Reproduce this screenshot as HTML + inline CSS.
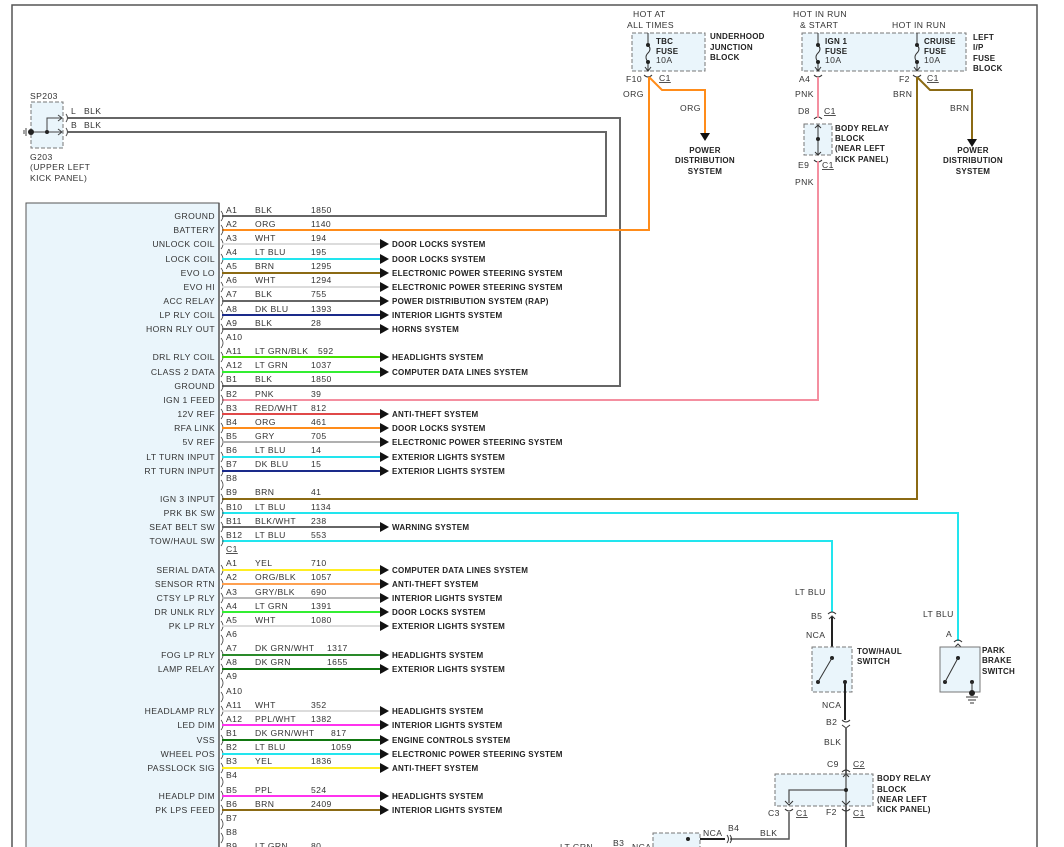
<!DOCTYPE html>
<html><head><meta charset="utf-8"><style>
html,body{margin:0;padding:0;background:#fff;}
svg{display:block;font-family:"Liberation Sans",sans-serif;font-size:8.6px;letter-spacing:0.4px;fill:#333;}
.b{font-weight:bold;fill:#222;font-size:8px;letter-spacing:0.25px;}
.r{text-anchor:end;}
</style></head><body>
<svg width="1064" height="847" viewBox="0 0 1064 847" xmlns="http://www.w3.org/2000/svg">
<rect x="0" y="0" width="1064" height="847" fill="#fff"/>
<path d="M12,847 V5 H1037 V847" fill="none" stroke="#555" stroke-width="1.5"/>
<rect x="26" y="203" width="193" height="660" fill="#eaf5fb" stroke="#555" stroke-width="1"/>
<line x1="219" y1="203" x2="219" y2="847" stroke="#555" stroke-width="1.5"/>

<text x="30" y="99">SP203</text>
<rect x="31" y="102" width="32" height="46" fill="#eaf5fb" stroke="#777" stroke-dasharray="4,2"/>
<path d="M31,132 H62 M47,132 V118 H62" fill="none" stroke="#444"/>
<path d="M58,115 l4,3 l-4,3 M58,129 l4,3 l-4,3" fill="none" stroke="#444"/>
<circle cx="31" cy="132" r="3" fill="#222"/><circle cx="47" cy="132" r="2" fill="#222"/>
<path d="M26,128 v8 M24,130 v4" stroke="#444"/>
<path d="M66,114 q3,4 0,8 M66,128 q3,4 0,8" fill="none" stroke="#444"/>
<text x="71" y="114">L</text><text x="84" y="114">BLK</text>
<text x="71" y="128">B</text><text x="84" y="128">BLK</text>
<text x="30" y="160">G203</text><text x="30" y="170">(UPPER LEFT</text><text x="30" y="181">KICK PANEL)</text>
<path d="M68,118 H620 V386 H222" fill="none" stroke="#666" stroke-width="2"/>
<path d="M68,132 H606 V216 H222" fill="none" stroke="#666" stroke-width="2"/>

<text x="633" y="17">HOT AT</text><text x="627" y="28">ALL TIMES</text>
<rect x="632" y="33" width="73" height="38" fill="#eaf5fb" stroke="#777" stroke-dasharray="4,2"/>
<path d="M648,33 V45 M648,62 V71" stroke="#333"/><path d="M648,45 q4,4 0,8 q-4,4 0,9" fill="none" stroke="#333"/>
<circle cx="648" cy="45" r="2" fill="#222"/><circle cx="648" cy="62" r="2" fill="#222"/>
<path d="M645,67 l3,4 l3,-4 M644,75 q4,4 8,0" fill="none" stroke="#333"/>
<text class="b" x="656" y="44">TBC</text><text class="b" x="656" y="54">FUSE</text><text x="656" y="63">10A</text>
<text class="b" x="710" y="39">UNDERHOOD</text><text class="b" x="710" y="50">JUNCTION</text><text class="b" x="710" y="60">BLOCK</text>
<text x="626" y="82">F10</text><text x="659" y="81" text-decoration="underline">C1</text>
<text x="623" y="97">ORG</text><text x="680" y="111">ORG</text>
<path d="M649,77 V230 H222" fill="none" stroke="#ff8c1a" stroke-width="2"/>
<path d="M649,77 L662,90 H705 V134" fill="none" stroke="#ff8c1a" stroke-width="2"/>
<polygon points="700,133 710,133 705,141" fill="#111"/>
<text class="b" x="705" y="153" text-anchor="middle">POWER</text><text class="b" x="705" y="163" text-anchor="middle">DISTRIBUTION</text><text class="b" x="705" y="174" text-anchor="middle">SYSTEM</text>

<text x="793" y="17">HOT IN RUN</text><text x="800" y="28">&amp; START</text><text x="892" y="28">HOT IN RUN</text>
<rect x="802" y="33" width="164" height="38" fill="#eaf5fb" stroke="#777" stroke-dasharray="4,2"/>
<path d="M818,33 V45 M818,62 V71 M917,33 V45 M917,62 V71" stroke="#333"/>
<path d="M818,45 q4,4 0,8 q-4,4 0,9 M917,45 q4,4 0,8 q-4,4 0,9" fill="none" stroke="#333"/>
<circle cx="818" cy="45" r="2" fill="#222"/><circle cx="818" cy="62" r="2" fill="#222"/>
<circle cx="917" cy="45" r="2" fill="#222"/><circle cx="917" cy="62" r="2" fill="#222"/>
<path d="M815,67 l3,4 l3,-4 M814,75 q4,4 8,0 M914,67 l3,4 l3,-4 M913,75 q4,4 8,0" fill="none" stroke="#333"/>
<text class="b" x="825" y="44">IGN 1</text><text class="b" x="825" y="54">FUSE</text><text x="825" y="63">10A</text>
<text class="b" x="924" y="44">CRUISE</text><text class="b" x="924" y="54">FUSE</text><text x="924" y="63">10A</text>
<text class="b" x="973" y="40">LEFT</text><text class="b" x="973" y="50">I/P</text><text class="b" x="973" y="61">FUSE</text><text class="b" x="973" y="71">BLOCK</text>
<text x="799" y="82">A4</text><text x="899" y="82">F2</text><text x="927" y="81" text-decoration="underline">C1</text>
<text x="795" y="97">PNK</text><text x="893" y="97">BRN</text><text x="950" y="111">BRN</text>
<text x="798" y="114">D8</text><text x="824" y="114" text-decoration="underline">C1</text>
<rect x="804" y="124" width="28" height="31" fill="#eaf5fb" stroke="#777" stroke-dasharray="4,2"/>
<path d="M814,119 q4,-4 8,0 M814,160 q4,4 8,0 M815,128 l3,-3 l3,3 M815,152 l3,3 l3,-3" fill="none" stroke="#333"/>
<path d="M818,125 V155" stroke="#333"/><circle cx="818" cy="139" r="2" fill="#222"/>
<text class="b" x="835" y="131">BODY RELAY</text><text class="b" x="835" y="141">BLOCK</text><text class="b" x="835" y="151">(NEAR LEFT</text><text class="b" x="835" y="162">KICK PANEL)</text>
<text x="798" y="168">E9</text><text x="822" y="168" text-decoration="underline">C1</text>
<text x="795" y="185">PNK</text>
<path d="M818,77 V118" stroke="#f48fa0" stroke-width="2"/>
<path d="M818,161 V400 H222" fill="none" stroke="#f48fa0" stroke-width="2"/>
<path d="M917,77 V499 H222" fill="none" stroke="#8b6a14" stroke-width="2"/>
<path d="M917,77 L930,90 H972 V140" fill="none" stroke="#8b6a14" stroke-width="2"/>
<polygon points="967,139 977,139 972,147" fill="#111"/>
<text class="b" x="973" y="153" text-anchor="middle">POWER</text><text class="b" x="973" y="163" text-anchor="middle">DISTRIBUTION</text><text class="b" x="973" y="174" text-anchor="middle">SYSTEM</text>

<path d="M222,513 H958 V641" fill="none" stroke="#22e5ee" stroke-width="2"/>
<path d="M222,541 H832 V612" fill="none" stroke="#22e5ee" stroke-width="2"/>
<text x="795" y="595">LT BLU</text><text x="923" y="617">LT BLU</text>
<text x="811" y="619">B5</text><text x="946" y="637">A</text>
<path d="M828,614 q4,-4 8,0 M829,619 l3,-3 l3,3 M954,642 q4,-4 8,0 M955,647 l3,-3 l3,3" fill="none" stroke="#333"/>
<path d="M832,617 V658" stroke="#222" stroke-width="2"/>
<text x="806" y="638">NCA</text>
<rect x="812" y="647" width="40" height="45" fill="#eaf5fb" stroke="#777" stroke-dasharray="4,2"/>
<circle cx="832" cy="658" r="2" fill="#222"/><circle cx="818" cy="682" r="2" fill="#222"/><circle cx="845" cy="682" r="2" fill="#222"/>
<path d="M832,658 L818,682" stroke="#333"/>
<text class="b" x="857" y="654">TOW/HAUL</text><text class="b" x="857" y="664">SWITCH</text>
<rect x="940" y="647" width="40" height="45" fill="#eaf5fb" stroke="#777"/>
<circle cx="958" cy="658" r="2" fill="#222"/><circle cx="945" cy="682" r="2" fill="#222"/><circle cx="972" cy="682" r="2" fill="#222"/>
<path d="M958,658 L945,682 M972,682 V694 M966,697 h12 M968,700 h8 M970,703 h4" stroke="#333"/>
<circle cx="972" cy="693" r="3" fill="#222"/>
<text class="b" x="982" y="653">PARK</text><text class="b" x="982" y="663">BRAKE</text><text class="b" x="982" y="674">SWITCH</text>
<path d="M845,682 V720" stroke="#222" stroke-width="2"/>
<text x="822" y="708">NCA</text><text x="826" y="725">B2</text>
<path d="M842,720 q4,4 8,0 M842,725 l4,3 l4,-3" fill="none" stroke="#333"/>
<path d="M846,727 V847" stroke="#666" stroke-width="2"/>
<text x="824" y="745">BLK</text>
<text x="827" y="767">C9</text><text x="853" y="767" text-decoration="underline">C2</text>
<rect x="775" y="774" width="98" height="32" fill="#eaf5fb" stroke="#777" stroke-dasharray="4,2"/>
<path d="M842,772 q4,-4 8,0 M843,777 l3,-3 l3,3" fill="none" stroke="#333"/>
<path d="M846,775 V806 M846,790 H789 V803" fill="none" stroke="#555" stroke-width="1.3"/>
<circle cx="846" cy="790" r="2" fill="#222"/>
<path d="M785,801 l4,4 l4,-4 M842,801 l4,4 l4,-4 M785,809 q4,4 8,0 M842,809 q4,4 8,0" fill="none" stroke="#333"/>
<text class="b" x="877" y="781">BODY RELAY</text><text class="b" x="877" y="792">BLOCK</text><text class="b" x="877" y="802">(NEAR LEFT</text><text class="b" x="877" y="812">KICK PANEL)</text>
<text x="768" y="816">C3</text><text x="796" y="816" text-decoration="underline">C1</text>
<text x="826" y="815">F2</text><text x="853" y="816" text-decoration="underline">C1</text>
<path d="M789,812 V839 H730" fill="none" stroke="#555" stroke-width="1.5"/>
<path d="M730,835 q3,4 0,8 M727,835 q3,4 0,8" fill="none" stroke="#333"/>
<text x="728" y="831">B4</text><text x="760" y="836">BLK</text><text x="703" y="836">NCA</text>
<path d="M700,839 H725" stroke="#222" stroke-width="2"/>
<rect x="653" y="833" width="47" height="20" fill="#eaf5fb" stroke="#777" stroke-dasharray="4,2"/>
<circle cx="688" cy="839" r="2" fill="#222"/>
<text x="613" y="846">B3</text><text x="632" y="850">NCA</text><text x="560" y="850">LT GRN</text>

<g class="r">
<text x="215" y="219">GROUND</text><text x="215" y="233">BATTERY</text><text x="215" y="247">UNLOCK COIL</text><text x="215" y="262">LOCK COIL</text><text x="215" y="276">EVO LO</text><text x="215" y="290">EVO HI</text><text x="215" y="304">ACC RELAY</text><text x="215" y="318">LP RLY COIL</text><text x="215" y="332">HORN RLY OUT</text><text x="215" y="360">DRL RLY COIL</text><text x="215" y="375">CLASS 2 DATA</text><text x="215" y="389">GROUND</text><text x="215" y="403">IGN 1 FEED</text><text x="215" y="417">12V REF</text><text x="215" y="431">RFA LINK</text><text x="215" y="445">5V REF</text><text x="215" y="460">LT TURN INPUT</text><text x="215" y="474">RT TURN INPUT</text><text x="215" y="502">IGN 3 INPUT</text><text x="215" y="516">PRK BK SW</text><text x="215" y="530">SEAT BELT SW</text><text x="215" y="544">TOW/HAUL SW</text><text x="215" y="573">SERIAL DATA</text><text x="215" y="587">SENSOR RTN</text><text x="215" y="601">CTSY LP RLY</text><text x="215" y="615">DR UNLK RLY</text><text x="215" y="629">PK LP RLY</text><text x="215" y="658">FOG LP RLY</text><text x="215" y="672">LAMP RELAY</text><text x="215" y="714">HEADLAMP RLY</text><text x="215" y="728">LED DIM</text><text x="215" y="743">VSS</text><text x="215" y="757">WHEEL POS</text><text x="215" y="771">PASSLOCK SIG</text><text x="215" y="799">HEADLP DIM</text><text x="215" y="813">PK LPS FEED</text>
</g>
<g fill="none" stroke="#444" stroke-width="0.8">
<path d="M221,211 q4,5 0,10 M221,225 q4,5 0,10 M221,239 q4,5 0,10 M221,254 q4,5 0,10 M221,268 q4,5 0,10 M221,282 q4,5 0,10 M221,296 q4,5 0,10 M221,310 q4,5 0,10 M221,324 q4,5 0,10 M221,338 q4,5 0,10 M221,352 q4,5 0,10 M221,367 q4,5 0,10 M221,381 q4,5 0,10 M221,395 q4,5 0,10 M221,409 q4,5 0,10 M221,423 q4,5 0,10 M221,437 q4,5 0,10 M221,452 q4,5 0,10 M221,466 q4,5 0,10 M221,480 q4,5 0,10 M221,494 q4,5 0,10 M221,508 q4,5 0,10 M221,522 q4,5 0,10 M221,536 q4,5 0,10"/>
<path d="M221,565 q4,5 0,10 M221,579 q4,5 0,10 M221,593 q4,5 0,10 M221,607 q4,5 0,10 M221,621 q4,5 0,10 M221,635 q4,5 0,10 M221,650 q4,5 0,10 M221,664 q4,5 0,10 M221,678 q4,5 0,10 M221,692 q4,5 0,10 M221,706 q4,5 0,10 M221,720 q4,5 0,10 M221,735 q4,5 0,10 M221,749 q4,5 0,10 M221,763 q4,5 0,10 M221,777 q4,5 0,10 M221,791 q4,5 0,10 M221,805 q4,5 0,10 M221,819 q4,5 0,10 M221,833 q4,5 0,10"/>
</g>
<text x="226" y="213">A1</text><text x="255" y="213">BLK</text><text x="311" y="213">1850</text>
<text x="226" y="227">A2</text><text x="255" y="227">ORG</text><text x="311" y="227">1140</text>
<text x="226" y="241">A3</text><text x="255" y="241">WHT</text><text x="311" y="241">194</text>
<text x="226" y="255">A4</text><text x="255" y="255">LT BLU</text><text x="311" y="255">195</text>
<text x="226" y="269">A5</text><text x="255" y="269">BRN</text><text x="311" y="269">1295</text>
<text x="226" y="283">A6</text><text x="255" y="283">WHT</text><text x="311" y="283">1294</text>
<text x="226" y="297">A7</text><text x="255" y="297">BLK</text><text x="311" y="297">755</text>
<text x="226" y="312">A8</text><text x="255" y="312">DK BLU</text><text x="311" y="312">1393</text>
<text x="226" y="326">A9</text><text x="255" y="326">BLK</text><text x="311" y="326">28</text>
<text x="226" y="340">A10</text>
<text x="226" y="354">A11</text><text x="255" y="354">LT GRN/BLK</text><text x="318" y="354">592</text>
<text x="226" y="368">A12</text><text x="255" y="368">LT GRN</text><text x="311" y="368">1037</text>
<text x="226" y="382">B1</text><text x="255" y="382">BLK</text><text x="311" y="382">1850</text>
<text x="226" y="397">B2</text><text x="255" y="397">PNK</text><text x="311" y="397">39</text>
<text x="226" y="411">B3</text><text x="255" y="411">RED/WHT</text><text x="311" y="411">812</text>
<text x="226" y="425">B4</text><text x="255" y="425">ORG</text><text x="311" y="425">461</text>
<text x="226" y="439">B5</text><text x="255" y="439">GRY</text><text x="311" y="439">705</text>
<text x="226" y="453">B6</text><text x="255" y="453">LT BLU</text><text x="311" y="453">14</text>
<text x="226" y="467">B7</text><text x="255" y="467">DK BLU</text><text x="311" y="467">15</text>
<text x="226" y="481">B8</text>
<text x="226" y="495">B9</text><text x="255" y="495">BRN</text><text x="311" y="495">41</text>
<text x="226" y="510">B10</text><text x="255" y="510">LT BLU</text><text x="311" y="510">1134</text>
<text x="226" y="524">B11</text><text x="255" y="524">BLK/WHT</text><text x="311" y="524">238</text>
<text x="226" y="538">B12</text><text x="255" y="538">LT BLU</text><text x="311" y="538">553</text>
<text x="226" y="552" text-decoration="underline">C1</text>
<text x="226" y="566">A1</text><text x="255" y="566">YEL</text><text x="311" y="566">710</text>
<text x="226" y="580">A2</text><text x="255" y="580">ORG/BLK</text><text x="311" y="580">1057</text>
<text x="226" y="595">A3</text><text x="255" y="595">GRY/BLK</text><text x="311" y="595">690</text>
<text x="226" y="609">A4</text><text x="255" y="609">LT GRN</text><text x="311" y="609">1391</text>
<text x="226" y="623">A5</text><text x="255" y="623">WHT</text><text x="311" y="623">1080</text>
<text x="226" y="637">A6</text>
<text x="226" y="651">A7</text><text x="255" y="651">DK GRN/WHT</text><text x="327" y="651">1317</text>
<text x="226" y="665">A8</text><text x="255" y="665">DK GRN</text><text x="327" y="665">1655</text>
<text x="226" y="679">A9</text>
<text x="226" y="694">A10</text>
<text x="226" y="708">A11</text><text x="255" y="708">WHT</text><text x="311" y="708">352</text>
<text x="226" y="722">A12</text><text x="255" y="722">PPL/WHT</text><text x="311" y="722">1382</text>
<text x="226" y="736">B1</text><text x="255" y="736">DK GRN/WHT</text><text x="331" y="736">817</text>
<text x="226" y="750">B2</text><text x="255" y="750">LT BLU</text><text x="331" y="750">1059</text>
<text x="226" y="764">B3</text><text x="255" y="764">YEL</text><text x="311" y="764">1836</text>
<text x="226" y="778">B4</text>
<text x="226" y="793">B5</text><text x="255" y="793">PPL</text><text x="311" y="793">524</text>
<text x="226" y="807">B6</text><text x="255" y="807">BRN</text><text x="311" y="807">2409</text>
<text x="226" y="821">B7</text>
<text x="226" y="835">B8</text>
<text x="226" y="849">B9</text><text x="255" y="849">LT GRN</text><text x="311" y="849">80</text>

<g stroke-width="2" fill="none">
<path d="M222,244 H380" stroke="#dcdcdc"/><path d="M222,259 H380" stroke="#22e5ee"/>
<path d="M222,273 H380" stroke="#8b6a14"/><path d="M222,287 H380" stroke="#dcdcdc"/>
<path d="M222,301 H380" stroke="#666"/><path d="M222,315 H380" stroke="#1a2a8a"/>
<path d="M222,329 H380" stroke="#666"/><path d="M222,357 H380" stroke="#44e000"/>
<path d="M222,372 H380" stroke="#33ee33"/><path d="M222,414 H380" stroke="#e04848"/>
<path d="M222,428 H380" stroke="#ff8c1a"/><path d="M222,442 H380" stroke="#b0b0b0"/>
<path d="M222,457 H380" stroke="#22e5ee"/><path d="M222,471 H380" stroke="#1a2a8a"/>
<path d="M222,527 H380" stroke="#666"/>
<path d="M222,570 H380" stroke="#ffee22"/><path d="M222,584 H380" stroke="#ffa050"/>
<path d="M222,598 H380" stroke="#b8b8b8"/><path d="M222,612 H380" stroke="#33ee33"/>
<path d="M222,626 H380" stroke="#dcdcdc"/><path d="M222,655 H380" stroke="#2a8a2a"/>
<path d="M222,669 H380" stroke="#117711"/><path d="M222,711 H380" stroke="#dcdcdc"/>
<path d="M222,725 H380" stroke="#ff33ee"/><path d="M222,740 H380" stroke="#117711"/>
<path d="M222,754 H380" stroke="#22e5ee"/><path d="M222,768 H380" stroke="#ffee22"/>
<path d="M222,796 H380" stroke="#ff33ee"/><path d="M222,810 H380" stroke="#8b6a14"/>
</g>
<g fill="#111">
<polygon points="380,239 389,244 380,249"/><polygon points="380,254 389,259 380,264"/><polygon points="380,268 389,273 380,278"/><polygon points="380,282 389,287 380,292"/><polygon points="380,296 389,301 380,306"/><polygon points="380,310 389,315 380,320"/><polygon points="380,324 389,329 380,334"/><polygon points="380,352 389,357 380,362"/><polygon points="380,367 389,372 380,377"/><polygon points="380,409 389,414 380,419"/><polygon points="380,423 389,428 380,433"/><polygon points="380,437 389,442 380,447"/><polygon points="380,452 389,457 380,462"/><polygon points="380,466 389,471 380,476"/><polygon points="380,522 389,527 380,532"/><polygon points="380,565 389,570 380,575"/><polygon points="380,579 389,584 380,589"/><polygon points="380,593 389,598 380,603"/><polygon points="380,607 389,612 380,617"/><polygon points="380,621 389,626 380,631"/><polygon points="380,650 389,655 380,660"/><polygon points="380,664 389,669 380,674"/><polygon points="380,706 389,711 380,716"/><polygon points="380,720 389,725 380,730"/><polygon points="380,735 389,740 380,745"/><polygon points="380,749 389,754 380,759"/><polygon points="380,763 389,768 380,773"/><polygon points="380,791 389,796 380,801"/><polygon points="380,805 389,810 380,815"/>
</g>
<g class="b">
<text x="392" y="247">DOOR LOCKS SYSTEM</text><text x="392" y="262">DOOR LOCKS SYSTEM</text><text x="392" y="276">ELECTRONIC POWER STEERING SYSTEM</text><text x="392" y="290">ELECTRONIC POWER STEERING SYSTEM</text><text x="392" y="304">POWER DISTRIBUTION SYSTEM (RAP)</text><text x="392" y="318">INTERIOR LIGHTS SYSTEM</text><text x="392" y="332">HORNS SYSTEM</text><text x="392" y="360">HEADLIGHTS SYSTEM</text><text x="392" y="375">COMPUTER DATA LINES SYSTEM</text><text x="392" y="417">ANTI-THEFT SYSTEM</text><text x="392" y="431">DOOR LOCKS SYSTEM</text><text x="392" y="445">ELECTRONIC POWER STEERING SYSTEM</text><text x="392" y="460">EXTERIOR LIGHTS SYSTEM</text><text x="392" y="474">EXTERIOR LIGHTS SYSTEM</text><text x="392" y="530">WARNING SYSTEM</text><text x="392" y="573">COMPUTER DATA LINES SYSTEM</text><text x="392" y="587">ANTI-THEFT SYSTEM</text><text x="392" y="601">INTERIOR LIGHTS SYSTEM</text><text x="392" y="615">DOOR LOCKS SYSTEM</text><text x="392" y="629">EXTERIOR LIGHTS SYSTEM</text><text x="392" y="658">HEADLIGHTS SYSTEM</text><text x="392" y="672">EXTERIOR LIGHTS SYSTEM</text><text x="392" y="714">HEADLIGHTS SYSTEM</text><text x="392" y="728">INTERIOR LIGHTS SYSTEM</text><text x="392" y="743">ENGINE CONTROLS SYSTEM</text><text x="392" y="757">ELECTRONIC POWER STEERING SYSTEM</text><text x="392" y="771">ANTI-THEFT SYSTEM</text><text x="392" y="799">HEADLIGHTS SYSTEM</text><text x="392" y="813">INTERIOR LIGHTS SYSTEM</text>
</g>
</svg>
</body></html>
